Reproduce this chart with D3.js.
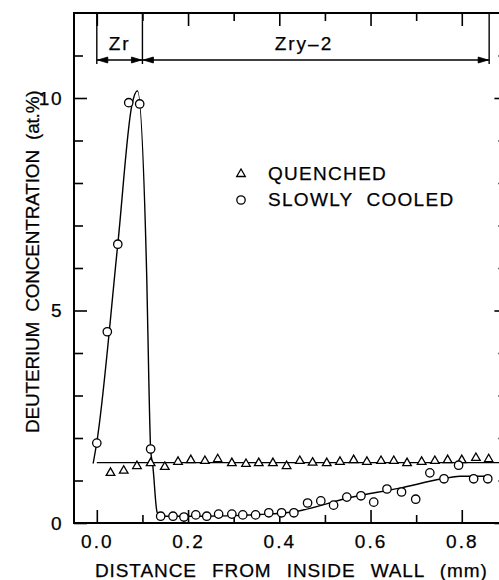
<!DOCTYPE html>
<html>
<head>
<meta charset="utf-8">
<script src="https://cdn.jsdelivr.net/npm/d3@7"></script>
<style>
  body { margin: 0; background: #fff; }
  text { font-family: "Liberation Sans", Arial, Helvetica, sans-serif; fill: #000; stroke: #000; stroke-width: 0.25px; }
</style>
</head>
<body>
<div id="chart"></div>
<script>
// quenched specimen (triangles)
const quenchX = [0.030, 0.059, 0.088, 0.118, 0.149, 0.178, 0.206, 0.237, 0.265, 0.296, 0.327, 0.355, 0.386, 0.416, 0.445,
  0.473, 0.504, 0.533, 0.563, 0.592, 0.623, 0.651, 0.680, 0.712, 0.741, 0.769, 0.800, 0.831, 0.859];
const quenchY = [1.18, 1.23, 1.34, 1.41, 1.32, 1.44, 1.48, 1.46, 1.50, 1.41, 1.39, 1.41, 1.41, 1.34, 1.46,
  1.42, 1.41, 1.44, 1.48, 1.44, 1.46, 1.46, 1.41, 1.44, 1.46, 1.48, 1.48, 1.53, 1.50];
const quenchFitX = [0.0, 0.9];
const quenchFitY = [1.42, 1.42];

// slowly cooled specimen (circles)
const slowX = [0.0, 0.023, 0.046, 0.070, 0.094, 0.118, 0.140, 0.167, 0.191, 0.217, 0.241, 0.267, 0.296, 0.320, 0.348, 0.377,
  0.405, 0.432, 0.462, 0.491, 0.519, 0.548, 0.579, 0.607, 0.636, 0.668, 0.699, 0.730, 0.761, 0.793, 0.826, 0.857];
const slowY = [1.88, 4.5, 6.56, 9.89, 9.86, 1.74, 0.16, 0.16, 0.14, 0.19, 0.16, 0.21, 0.21, 0.19, 0.19, 0.24,
  0.24, 0.24, 0.47, 0.52, 0.42, 0.61, 0.64, 0.49, 0.80, 0.73, 0.56, 1.18, 1.04, 1.36, 1.04, 1.04];
const slowFitX = [-0.008, 0.0, 0.046, 0.077, 0.089, 0.1096, 0.114, 0.118, 0.123, 0.132, 0.140, 0.226, 0.357, 0.430, 0.555, 0.664, 0.758, 0.796, 0.861];
const slowFitY = [1.40, 1.90, 6.56, 9.84, 10.17, 5.72, 3.36, 1.74, 1.32, 0.26, 0.16, 0.16, 0.20, 0.26, 0.60, 0.82, 1.04, 1.10, 1.10];

// layer zones along the top
const zoneBounds = [0.0, 0.1, 0.86];
const zoneLabels = ["Zr", "Zry–2"];
const zoneLabelX = [0.05, 0.454];

const xMajor = [0.0, 0.2, 0.4, 0.6, 0.8];
const xMinor = [0.1, 0.3, 0.5, 0.7, 0.9];
const yMajor = [0, 5, 10];
const yMinor = [1, 2, 3, 4, 6, 7, 8, 9, 11];

const legendNames = ["QUENCHED", "SLOWLY  COOLED"];

const W = 499, H = 580;
const mLeft = 74, mTop = 13, mBottom = 523, mRight = 507.4;

const svg = d3.select("#chart").append("svg")
  .attr("width", W).attr("height", H);

const x = d3.scaleLinear().domain([-0.05, 0.9]).range([mLeft, mRight]);
const y = d3.scaleLinear().domain([0, 12]).range([mBottom, mTop]);

// ticks (inward), minor first then major with labels
function xAxes(g, pos, gen) {
  g.append("g").attr("transform", "translate(0," + pos + ")")
    .call(gen(x).tickValues(xMinor).tickSize(-8).tickFormat(""));
  return g.append("g").attr("transform", "translate(0," + pos + ")")
    .call(gen(x).tickValues(xMajor).tickSize(-13).tickPadding(12).tickFormat(d3.format(".1f")));
}
const axes = svg.append("g").attr("class", "axes");
const bx = xAxes(axes, mBottom, d3.axisBottom);
bx.selectAll("text").attr("font-size", 19).attr("letter-spacing", "2px");
const tx = xAxes(axes, mTop, d3.axisTop);
tx.selectAll("text").remove();

function yAxes(g, pos, gen) {
  g.append("g").attr("transform", "translate(" + pos + ",0)")
    .call(gen(y).tickValues(yMinor).tickSize(-9).tickFormat(""));
  return g.append("g").attr("transform", "translate(" + pos + ",0)")
    .call(gen(y).tickValues(yMajor).tickSize(-13).tickPadding(11));
}
const ly = yAxes(axes, mLeft, d3.axisLeft);
ly.selectAll("text").attr("font-size", 19).attr("letter-spacing", "1.5px");
const ry = yAxes(axes, mRight, d3.axisRight);
ry.selectAll("text").remove();

axes.selectAll(".domain").remove();
axes.selectAll(".tick line").attr("stroke", "#000").attr("stroke-width", 1.6);

svg.append("rect")
  .attr("x", mLeft).attr("y", mTop)
  .attr("width", mRight - mLeft).attr("height", mBottom - mTop)
  .attr("fill", "none").attr("stroke", "#000").attr("stroke-width", 2);

// fitted curves
const line = d3.line().x(d => x(d[0])).y(d => y(d[1]));
svg.append("path")
  .datum(d3.zip(quenchFitX, quenchFitY))
  .attr("d", line)
  .attr("fill", "none").attr("stroke", "#000").attr("stroke-width", 1.4);
svg.append("path")
  .datum(d3.zip(slowFitX, slowFitY))
  .attr("d", line.curve(d3.curveMonotoneX))
  .attr("fill", "none").attr("stroke", "#000").attr("stroke-width", 1.4);

// markers
const tri = d3.symbol(d3.symbolTriangle, 32);
svg.append("g").selectAll("path")
  .data(d3.zip(quenchX, quenchY))
  .join("path")
  .attr("d", tri)
  .attr("transform", d => "translate(" + x(d[0]) + "," + y(d[1]) + ")")
  .attr("fill", "#fff").attr("stroke", "#000").attr("stroke-width", 1.3);

svg.append("g").selectAll("circle")
  .data(d3.zip(slowX, slowY))
  .join("circle")
  .attr("cx", d => x(d[0])).attr("cy", d => y(d[1]))
  .attr("r", 4.2)
  .attr("fill", "#fff").attr("stroke", "#000").attr("stroke-width", 1.3);

// zone annotation
const zone = svg.append("g").attr("stroke", "#000").attr("stroke-width", 1.4);
const arrowY = 60, zoneBottom = 64;
zoneBounds.forEach(b => {
  zone.append("line").attr("x1", x(b)).attr("x2", x(b)).attr("y1", mTop).attr("y2", zoneBottom);
});
function arrowHead(px, dir) {
  zone.append("path")
    .attr("d", "M" + px + "," + arrowY + "l" + (-dir * 10) + ",-3l0,6z")
    .attr("fill", "#000").attr("stroke-width", 0.8);
}
for (let i = 0; i < zoneLabels.length; i++) {
  const a = x(zoneBounds[i]), b = x(zoneBounds[i + 1]);
  zone.append("line").attr("x1", a).attr("x2", b).attr("y1", arrowY).attr("y2", arrowY);
  arrowHead(a + 1, -1);
  arrowHead(b - 1, 1);
  svg.append("text")
    .attr("x", x(zoneLabelX[i])).attr("y", 50)
    .attr("text-anchor", "middle")
    .attr("font-size", 19).attr("letter-spacing", "2px")
    .text(zoneLabels[i]);
}

// legend
const leg = svg.append("g");
leg.append("path").attr("d", tri).attr("transform", "translate(241,174)")
  .attr("fill", "#fff").attr("stroke", "#000").attr("stroke-width", 1.3);
leg.append("circle").attr("cx", 241).attr("cy", 200).attr("r", 4.2)
  .attr("fill", "#fff").attr("stroke", "#000").attr("stroke-width", 1.3);
legendNames.forEach((n, i) => {
  leg.append("text").attr("x", 268).attr("y", 180 + i * 26)
    .attr("font-size", 19).attr("letter-spacing", "1.3px")
    .style("white-space", "pre")
    .text(n);
});

// axis titles
svg.append("text")
  .attr("x", 95).attr("y", 577)
  .attr("font-size", 19).attr("letter-spacing", "0.9px").attr("word-spacing", "9px")
  .text("DISTANCE FROM INSIDE WALL (mm)");

svg.append("text")
  .attr("transform", "translate(39,433) rotate(-90)")
  .attr("font-size", 19).attr("letter-spacing", "-0.2px").attr("word-spacing", "5px")
  .text("DEUTERIUM CONCENTRATION (at.%)");
</script>
</body>
</html>
